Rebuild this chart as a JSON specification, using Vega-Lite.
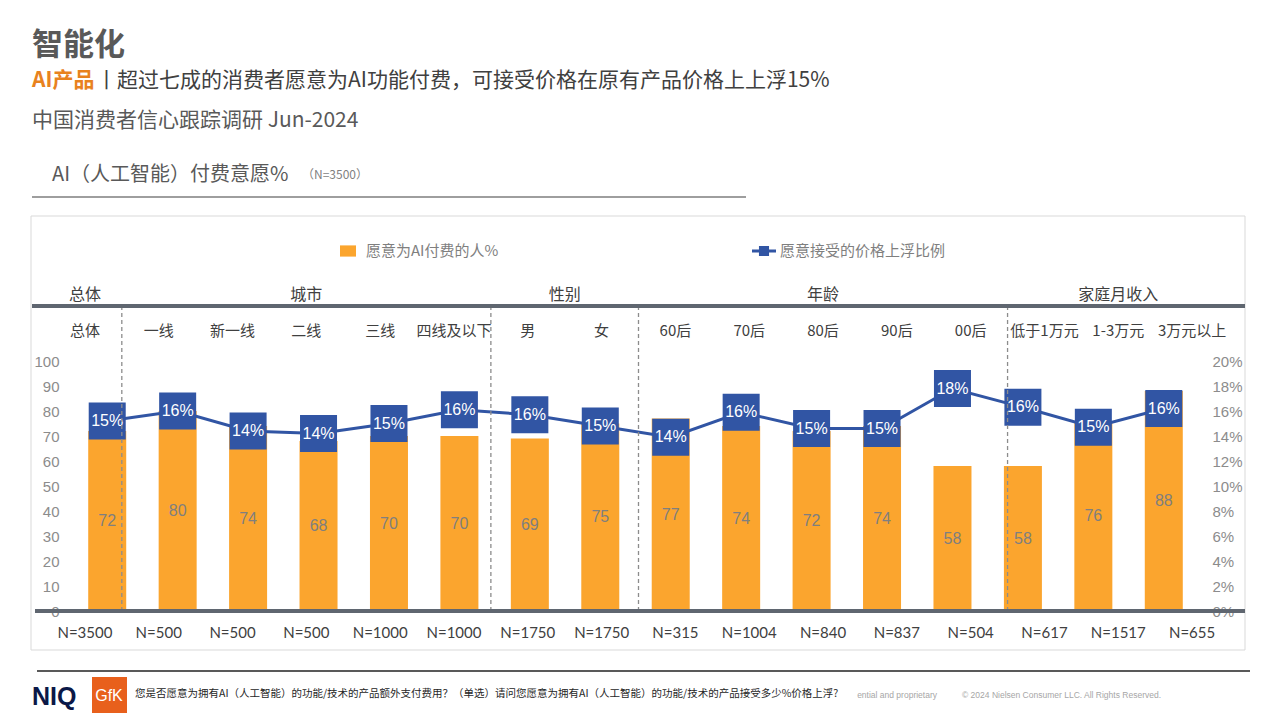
{
  "$schema": "https://vega.github.io/schema/vega-lite/v6.json",
  "width": 1127,
  "height": 250,
  "autosize": {"type": "none"},
  "padding": {"left": 72, "top": 361, "right": 81, "bottom": 109},
  "background": "white",
  "config": {"view": {"stroke": null}, "font": "Noto Sans CJK SC"},
  "datasets": {
    "d": [
      {"seg": "总体", "n": "N=3500", "will": 72, "prem": 0.152},
      {"seg": "一线", "n": "N=500", "will": 80, "prem": 0.160},
      {"seg": "新一线", "n": "N=500", "will": 74, "prem": 0.144},
      {"seg": "二线", "n": "N=500", "will": 68, "prem": 0.142},
      {"seg": "三线", "n": "N=1000", "will": 70, "prem": 0.150},
      {"seg": "四线及以下", "n": "N=1000", "will": 70, "prem": 0.161},
      {"seg": "男", "n": "N=1750", "will": 69, "prem": 0.157},
      {"seg": "女", "n": "N=1750", "will": 75, "prem": 0.148},
      {"seg": "60后", "n": "N=315", "will": 77, "prem": 0.139},
      {"seg": "70后", "n": "N=1004", "will": 74, "prem": 0.159},
      {"seg": "80后", "n": "N=840", "will": 72, "prem": 0.146},
      {"seg": "90后", "n": "N=837", "will": 74, "prem": 0.146},
      {"seg": "00后", "n": "N=504", "will": 58, "prem": 0.178},
      {"seg": "低于1万元", "n": "N=617", "will": 58, "prem": 0.163},
      {"seg": "1-3万元", "n": "N=1517", "will": 76, "prem": 0.147},
      {"seg": "3万元以上", "n": "N=655", "will": 88, "prem": 0.162}
    ]
  },
  "data": {"name": "d"},
  "resolve": {"scale": {"x": "independent", "y": "independent"}},
  "layer": [
    {
      "data": {"values": [{}]},
      "mark": {"type": "rect", "x": -41, "x2": 1173, "y": -145, "y2": 289, "fill": "transparent", "stroke": "#d9d9d9", "strokeWidth": 1},
      "encoding": {}
    },
    {
      "mark": {"type": "bar", "width": 38},
      "encoding": {
        "x": {"field": "seg", "type": "nominal", "sort": null, "scale": {"type": "band", "paddingInner": 0, "paddingOuter": 0}, "axis": null},
        "y": {"field": "will", "type": "quantitative", "scale": {"domain": [0, 100]},
          "axis": {"orient": "left", "values": [0, 10, 20, 30, 40, 50, 60, 70, 80, 90, 100], "domain": false, "ticks": false, "grid": false, "labelPadding": 13, "labelFontSize": 15, "labelColor": "#8c8c8c", "labelFont": "Liberation Sans", "title": null}},
        "fill": {"datum": "愿意为AI付费的人%", "type": "nominal", "scale": {"range": ["#FBA52E"]},
          "legend": {"orient": "none", "legendX": 268, "legendY": -118, "title": null, "symbolType": "M-1,-0.7H1V0.7H-1Z", "symbolSize": 256, "symbolStrokeWidth": 0, "labelFontSize": 15, "labelColor": "#7f7f7f", "labelOffset": 10, "labelLimit": 0, "padding": 0, "labelFont": "Noto Sans CJK SC"}}
      }
    },
    {
      "mark": {"type": "text", "baseline": "middle", "align": "center", "fontSize": 16, "color": "#7f7f7f", "font": "Liberation Sans"},
      "encoding": {
        "x": {"field": "seg", "type": "nominal", "sort": null, "scale": {"type": "band", "paddingInner": 0, "paddingOuter": 0}, "axis": null},
        "y": {"field": "will", "type": "quantitative", "scale": {"domain": [0, 200]}, "axis": null},
        "text": {"field": "will", "type": "quantitative"}
      }
    },
    {
      "mark": {"type": "line", "strokeWidth": 3},
      "encoding": {
        "x": {"field": "seg", "type": "nominal", "sort": null, "scale": {"type": "band", "paddingInner": 0, "paddingOuter": 0}, "axis": null},
        "y": {"field": "prem", "type": "quantitative", "scale": {"domain": [0, 0.2]},
          "axis": {"orient": "right", "format": ".0%", "values": [0, 0.02, 0.04, 0.06, 0.08, 0.1, 0.12, 0.14, 0.16, 0.18, 0.2], "domain": false, "ticks": false, "grid": false, "labelPadding": 13, "labelFontSize": 15, "labelColor": "#8c8c8c", "labelFont": "Liberation Sans", "title": null}},
        "stroke": {"datum": "愿意接受的价格上浮比例", "type": "nominal", "scale": {"range": ["#3155A4"]},
          "legend": {"orient": "none", "legendX": 680, "legendY": -122, "title": null, "symbolType": "M-1,-0.12H1V0.12H-1Z M-0.42,-0.42H0.42V0.42H-0.42Z", "symbolSize": 576, "symbolFillColor": "#3155A4", "symbolStrokeColor": "#3155A4", "symbolStrokeWidth": 0, "labelFontSize": 15, "labelColor": "#7f7f7f", "labelOffset": 4, "labelLimit": 0, "padding": 0, "labelFont": "Noto Sans CJK SC"}}
      }
    },
    {
      "mark": {"type": "point", "shape": "square", "filled": true, "size": 1370, "color": "#3155A4", "opacity": 1},
      "encoding": {
        "x": {"field": "seg", "type": "nominal", "sort": null, "scale": {"type": "band", "paddingInner": 0, "paddingOuter": 0}, "axis": null},
        "y": {"field": "prem", "type": "quantitative", "scale": {"domain": [0, 0.2]}, "axis": null}
      }
    },
    {
      "mark": {"type": "text", "baseline": "middle", "align": "center", "fontSize": 16, "color": "white", "font": "Liberation Sans"},
      "encoding": {
        "x": {"field": "seg", "type": "nominal", "sort": null, "scale": {"type": "band", "paddingInner": 0, "paddingOuter": 0}, "axis": null},
        "y": {"field": "prem", "type": "quantitative", "scale": {"domain": [0, 0.2]}, "axis": null},
        "text": {"field": "prem", "type": "quantitative", "format": ".0%"}
      }
    },
    {
      "data": {"values": [{"at": "一线"}, {"at": "男"}, {"at": "60后"}, {"at": "低于1万元"}]},
      "mark": {"type": "rule", "strokeDash": [4, 3], "strokeWidth": 1.3, "color": "#8c8c8c"},
      "encoding": {
        "x": {"field": "at", "type": "nominal", "bandPosition": 0, "axis": null,
          "scale": {"type": "band", "domain": ["总体", "一线", "新一线", "二线", "三线", "四线及以下", "男", "女", "60后", "70后", "80后", "90后", "00后", "低于1万元", "1-3万元", "3万元以上"], "range": [-24, 1157], "paddingInner": 0, "paddingOuter": 0}},
        "y": {"datum": 122, "type": "quantitative", "scale": {"domain": [0, 100]}, "axis": null},
        "y2": {"datum": 0}
      }
    },
    {
      "mark": {"type": "text", "baseline": "middle", "align": "center", "fontSize": 15, "color": "#404040"},
      "encoding": {
        "x": {"field": "seg", "type": "nominal", "axis": null,
          "scale": {"type": "band", "domain": ["总体", "一线", "新一线", "二线", "三线", "四线及以下", "男", "女", "60后", "70后", "80后", "90后", "00后", "低于1万元", "1-3万元", "3万元以上"], "range": [-24, 1157], "paddingInner": 0, "paddingOuter": 0}},
        "y": {"datum": 112, "type": "quantitative", "scale": {"domain": [0, 100]}, "axis": null},
        "text": {"field": "seg", "type": "nominal"}
      }
    },
    {
      "mark": {"type": "text", "baseline": "middle", "align": "center", "fontSize": 15, "color": "#404040", "font": "Lato"},
      "encoding": {
        "x": {"field": "seg", "type": "nominal", "axis": null,
          "scale": {"type": "band", "domain": ["总体", "一线", "新一线", "二线", "三线", "四线及以下", "男", "女", "60后", "70后", "80后", "90后", "00后", "低于1万元", "1-3万元", "3万元以上"], "range": [-24, 1157], "paddingInner": 0, "paddingOuter": 0}},
        "y": {"datum": -8.8, "type": "quantitative", "scale": {"domain": [0, 100]}, "axis": null},
        "text": {"field": "n", "type": "nominal"}
      }
    },
    {
      "data": {"values": [{"g": "总体", "at": "总体"}, {"g": "城市", "at": "二线"}, {"g": "年龄", "at": "80后"}, {"g": "家庭月收入", "at": "1-3万元"}]},
      "mark": {"type": "text", "baseline": "middle", "align": "center", "fontSize": 16, "color": "#404040"},
      "encoding": {
        "x": {"field": "at", "type": "nominal", "axis": null,
          "scale": {"type": "band", "domain": ["总体", "一线", "新一线", "二线", "三线", "四线及以下", "男", "女", "60后", "70后", "80后", "90后", "00后", "低于1万元", "1-3万元", "3万元以上"], "range": [-24, 1157], "paddingInner": 0, "paddingOuter": 0}},
        "y": {"datum": 126.4, "type": "quantitative", "scale": {"domain": [0, 100]}, "axis": null},
        "text": {"field": "g", "type": "nominal"}
      }
    },
    {
      "data": {"values": [{"g": "性别", "at": "女"}]},
      "mark": {"type": "text", "baseline": "middle", "align": "center", "fontSize": 16, "color": "#404040"},
      "encoding": {
        "x": {"field": "at", "type": "nominal", "bandPosition": 0, "axis": null,
          "scale": {"type": "band", "domain": ["总体", "一线", "新一线", "二线", "三线", "四线及以下", "男", "女", "60后", "70后", "80后", "90后", "00后", "低于1万元", "1-3万元", "3万元以上"], "range": [-24, 1157], "paddingInner": 0, "paddingOuter": 0}},
        "y": {"datum": 126.4, "type": "quantitative", "scale": {"domain": [0, 100]}, "axis": null},
        "text": {"field": "g", "type": "nominal"}
      }
    },
    {
      "data": {"values": [{}]},
      "mark": {"type": "rect", "x": -40, "x2": 1173, "y": -57, "y2": -53, "fill": "#5f6670"},
      "encoding": {}
    },
    {
      "data": {"values": [{}]},
      "mark": {"type": "rect", "x": -37, "x2": 1173, "y": 248, "y2": 252, "fill": "#5f6670"},
      "encoding": {}
    },
    {
      "data": {"values": [{}]},
      "mark": {"type": "rect", "x": -40, "x2": 674, "y": -164.5, "y2": -163.5, "fill": "#3f3f3f"},
      "encoding": {}
    },
    {
      "data": {"values": [{}]},
      "mark": {"type": "rect", "x": -35, "x2": 1178, "y": 309, "y2": 311, "fill": "#595959"},
      "encoding": {}
    },
    {
      "data": {"values": [{}]},
      "mark": {"type": "text", "text": "智能化", "x": -40, "y": -315, "align": "left", "baseline": "middle", "fontSize": 31, "fontWeight": "bold", "color": "#595959"},
      "encoding": {}
    },
    {
      "data": {"values": [{}]},
      "mark": {"type": "text", "text": "AI产品", "x": -40, "y": -280, "align": "left", "baseline": "middle", "fontSize": 21, "fontWeight": "bold", "color": "#E8821E"},
      "encoding": {}
    },
    {
      "data": {"values": [{}]},
      "mark": {"type": "text", "text": "丨超过七成的消费者愿意为AI功能付费，可接受价格在原有产品价格上上浮15%", "x": 24, "y": -280, "align": "left", "baseline": "middle", "fontSize": 21, "color": "#404040"},
      "encoding": {}
    },
    {
      "data": {"values": [{}]},
      "mark": {"type": "text", "text": "中国消费者信心跟踪调研 Jun-2024", "x": -40, "y": -240, "align": "left", "baseline": "middle", "fontSize": 21, "color": "#595959"},
      "encoding": {}
    },
    {
      "data": {"values": [{}]},
      "mark": {"type": "text", "text": "AI（人工智能）付费意愿%", "x": -20, "y": -186, "align": "left", "baseline": "middle", "fontSize": 20, "color": "#595959"},
      "encoding": {}
    },
    {
      "data": {"values": [{}]},
      "mark": {"type": "text", "text": "（N=3500）", "x": 230, "y": -186, "align": "left", "baseline": "middle", "fontSize": 12, "color": "#7f7f7f"},
      "encoding": {}
    },
    {
      "data": {"values": [{}]},
      "mark": {"type": "text", "text": "NIQ", "x": -40, "y": 336, "align": "left", "baseline": "middle", "fontSize": 25, "fontWeight": "bold", "color": "#0B1847", "font": "Liberation Sans"},
      "encoding": {}
    },
    {
      "data": {"values": [{}]},
      "mark": {"type": "rect", "x": 20, "x2": 55, "y": 316, "y2": 352, "fill": "#E8601C"},
      "encoding": {}
    },
    {
      "data": {"values": [{}]},
      "mark": {"type": "text", "text": "GfK", "x": 37, "y": 335, "align": "center", "baseline": "middle", "fontSize": 16, "color": "white", "font": "Liberation Sans"},
      "encoding": {}
    },
    {
      "data": {"values": [{}]},
      "mark": {"type": "text", "text": "您是否愿意为拥有AI（人工智能）的功能/技术的产品额外支付费用？（单选）请问您愿意为拥有AI（人工智能）的功能/技术的产品接受多少%价格上浮?", "x": 63, "y": 333, "align": "left", "baseline": "middle", "fontSize": 10.5, "color": "#262626"},
      "encoding": {}
    },
    {
      "data": {"values": [{}]},
      "mark": {"type": "text", "text": "ential and proprietary", "x": 865, "y": 334, "align": "right", "baseline": "middle", "fontSize": 8.5, "color": "#a6a6a6", "font": "Liberation Sans"},
      "encoding": {}
    },
    {
      "data": {"values": [{}]},
      "mark": {"type": "text", "text": "© 2024 Nielsen Consumer LLC. All Rights Reserved.", "x": 890, "y": 334, "align": "left", "baseline": "middle", "fontSize": 8.5, "color": "#a6a6a6", "font": "Liberation Sans"},
      "encoding": {}
    }
  ]
}
